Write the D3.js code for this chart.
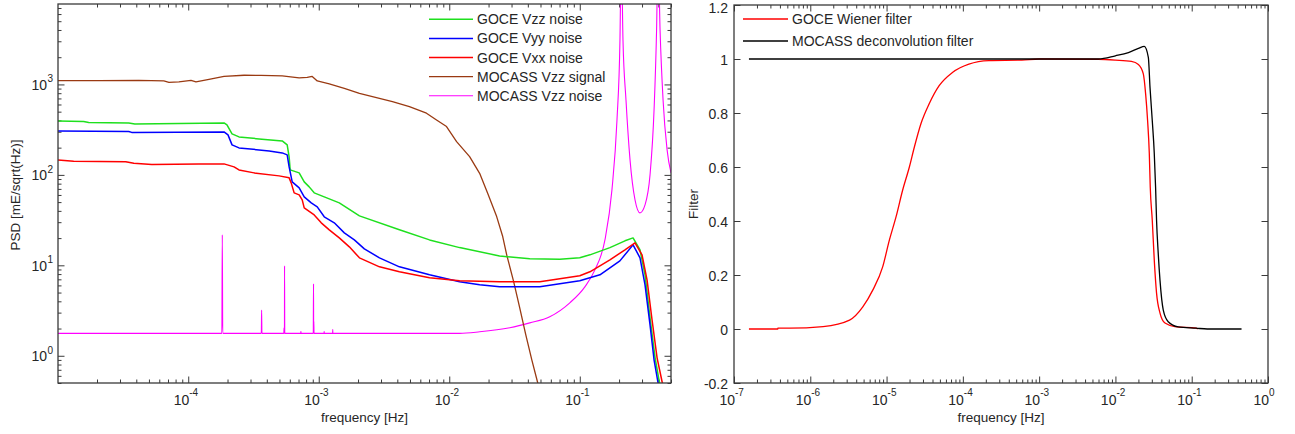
<!DOCTYPE html>
<html>
<head>
<meta charset="utf-8">
<script src="https://cdn.jsdelivr.net/npm/d3@7"></script>
<style>
  body { margin: 0; background: #fff; }
  svg text { font-family: Arial, "Liberation Sans", Helvetica, sans-serif; fill: #262626; }
</style>
</head>
<body>
<svg id="fig" width="1295" height="434"></svg>
<script>
// ---------- PSD panel data: [frequency (Hz), PSD (mE/sqrt(Hz))] ----------
const goceVzz = [
  [1.005e-5, 395], [1.58e-5, 390], [1.727e-5, 380], [3.5e-5, 375.5], [3.9e-5, 366],
  [1.88e-4, 375.5], [1.98e-4, 356.8], [2.166e-4, 283.8], [2.45e-4, 263], [3.49e-4, 250],
  [5.25e-4, 237.5], [5.73e-4, 214.5], [5.93e-4, 158], [6.04e-4, 113.5], [7.08e-4, 105.2],
  [7.74e-4, 83.7], [8.45e-4, 73.7], [9.23e-4, 63.3], [1.102e-3, 57.1], [1.437e-3, 49],
  [2.05e-3, 35.2], [4.15e-3, 24.7], [7.06e-3, 19.1], [1.2e-2, 15.7], [2.43e-2, 12.7],
  [4.14e-2, 11.8], [7.03e-2, 11.65], [0.1, 12.1], [0.1196, 13.06], [0.1702, 15.7],
  [0.222, 18.66], [0.256, 20.1], [0.2894, 14.8], [0.3162, 7.85], [0.3454, 2.63],
  [0.3776, 0.95], [0.405, 0.536], [0.428, 0.375]
];
const goceVyy = [
  [1.005e-5, 306.3], [3.5e-5, 302.4], [3.69e-5, 294.8], [1.88e-4, 298.6], [2.017e-4, 276.7],
  [2.166e-4, 214.5], [2.45e-4, 198.7], [4.17e-4, 184.1], [5.25e-4, 175], [5.73e-4, 166.3],
  [5.93e-4, 122.6], [6.26e-4, 83.7], [7.08e-4, 71.8], [7.74e-4, 57.1], [8.76e-4, 49],
  [9.74e-4, 44.3], [1.102e-3, 34.4], [1.315e-3, 29.5], [1.57e-3, 22.86], [1.874e-3, 19.13],
  [2.236e-3, 15.2], [2.92e-3, 12.1], [4.15e-3, 9.62], [7.06e-3, 7.85], [1.2e-2, 6.57],
  [1.709e-2, 6.09], [2.43e-2, 5.78], [4.94e-2, 5.78], [0.1, 6.74], [0.1427, 7.85],
  [0.203, 11.2], [0.256, 16.84], [0.2894, 12.1], [0.3162, 6.09], [0.3454, 2.2],
  [0.3708, 0.903], [0.398, 0.503], [0.4123, 0.375]
];
const goceVxx = [
  [1.005e-5, 146.5], [1.325e-5, 141.1], [3.32e-5, 139.3], [3.83e-5, 134.1], [5.26e-5, 130.6],
  [1.208e-4, 132.3], [1.88e-4, 132.3], [2.244e-4, 122.6], [2.45e-4, 113.5], [3.196e-4, 105.2],
  [4.97e-4, 97.5], [5.93e-4, 92.7], [6.15e-4, 81.6], [6.48e-4, 63.2], [7.08e-4, 60.1],
  [7.47e-4, 52.9], [7.74e-4, 43.2], [9.23e-4, 36.1], [1.045e-3, 29.5], [1.204e-3, 24.7],
  [1.437e-3, 20.1], [1.715e-3, 16.02], [2.05e-3, 12.1], [2.92e-3, 9.62], [4.15e-3, 8.48],
  [7.06e-3, 7.28], [1.2e-2, 6.74], [2.43e-2, 6.57], [4.94e-2, 6.57], [0.1, 7.66],
  [0.1196, 8.48], [0.1702, 11.5], [0.222, 14.83], [0.265, 17.73], [0.2999, 13.06],
  [0.3276, 6.92], [0.3578, 2.5], [0.3911, 0.95], [0.428, 0.51], [0.461, 0.375]
];
const mocassSignal = [
  [1.005e-5, 1102], [2.06e-5, 1102], [4.18e-5, 1107], [6.5e-5, 1093], [7.11e-5, 1052],
  [8.48e-5, 1066], [1.05e-4, 1107], [1.146e-4, 1066], [1.442e-4, 1136], [1.88e-4, 1226],
  [2.68e-4, 1264], [3.62e-4, 1257], [5.25e-4, 1242], [7.08e-4, 1180], [8.16e-4, 1195],
  [8.91e-4, 1226], [9.74e-4, 1093], [1.204e-3, 1013], [1.57e-3, 903], [2.05e-3, 795],
  [3.67e-3, 646], [4.95e-3, 569], [6.69e-3, 481], [7.99e-3, 405], [9.53e-3, 342],
  [1.138e-2, 233], [1.432e-2, 159], [1.709e-2, 104], [1.969e-2, 62.8], [2.308e-2, 34.6],
  [2.568e-2, 20.8], [2.755e-2, 13.06], [3.118e-2, 6.57], [3.467e-2, 3.39], [3.855e-2, 1.71],
  [4.29e-2, 0.903], [4.76e-2, 0.503], [5.3e-2, 0.26]
];
const mocassNoise = [
  [1.005e-5, 1.77], [1.81e-4, 1.77], [1.824e-4, 21.7], [1.838e-4, 1.77], [3.63e-4, 1.77],
  [3.65e-4, 3.2], [3.67e-4, 1.77], [5.40e-4, 1.77], [5.42e-4, 2.04], [5.44e-4, 1.77],
  [5.46e-4, 1.77], [5.47e-4, 9.9], [5.49e-4, 1.77], [7.28e-4, 1.77], [7.3e-4, 1.85],
  [7.32e-4, 1.77], [9.08e-4, 1.77], [9.12e-4, 6.25], [9.14e-4, 1.77], [9.17e-4, 2.4],
  [9.2e-4, 1.77], [1.098e-3, 1.77], [1.1e-3, 1.85], [1.102e-3, 1.77], [1.278e-3, 1.77],
  [1.28e-3, 1.95], [1.282e-3, 1.77], [1.2e-2, 1.77], [1.709e-2, 1.84], [2.905e-2, 2.04],
  [4.14e-2, 2.31], [5.89e-2, 2.70], [8.39e-2, 3.85], [0.1094, 5.78], [0.1306, 8.9],
  [0.1559, 19.1], [0.1764, 68.3], [0.1928, 405], [0.2032, 3102], [0.208, 30000],
  [0.2143, 3102], [0.226, 674], [0.2427, 146.5], [0.265, 52.9], [0.2894, 38],
  [0.3162, 46.6], [0.3454, 100], [0.3708, 523], [0.3877, 4000], [0.398, 30000],
  [0.4123, 4000], [0.4347, 674], [0.4667, 189], [0.5, 105]
];
const psdLabels = ["GOCE Vzz noise", "GOCE Vyy noise", "GOCE Vxx noise", "MOCASS Vzz signal", "MOCASS Vzz noise"];
const psdColors = ["#1ee01e", "#0000ff", "#ff0000", "#9a3a12", "#ff00ff"];

// ---------- filter panel data: [frequency (Hz), gain] ----------
const goceWiener = [
  [1.57e-7, 0], [3.75e-7, 0], [3.76e-7, 0.003], [5.38e-7, 0.003], [1.47e-6, 0.009],
  [3.27e-6, 0.033], [4.88e-6, 0.082], [6.59e-6, 0.144], [8.89e-6, 0.23], [1.09e-5, 0.33],
  [1.33e-5, 0.415], [1.62e-5, 0.513], [1.99e-5, 0.6], [2.31e-5, 0.673], [2.82e-5, 0.76],
  [3.62e-5, 0.834], [4.89e-5, 0.901], [7.3e-5, 0.95], [1.2e-4, 0.981], [2.2e-4, 0.994],
  [5.93e-4, 0.996], [1e-3, 1.0], [6e-3, 0.999], [1e-2, 0.996], [1.62e-2, 0.991],
  [2e-2, 0.98], [2.32e-2, 0.945], [2.49e-2, 0.87], [2.64e-2, 0.772], [2.78e-2, 0.65],
  [2.86e-2, 0.526], [3.04e-2, 0.403], [3.23e-2, 0.255], [3.46e-2, 0.133], [3.84e-2, 0.059],
  [4.46e-2, 0.022], [6.01e-2, 0.009], [0.114, 0.003], [0.12, 0]
];
const mocassDeconv = [
  [1.57e-7, 1], [6e-3, 1], [1e-2, 1.012], [1.48e-2, 1.024], [2e-2, 1.039],
  [2.39e-2, 1.047], [2.7e-2, 1.006], [2.84e-2, 0.895], [3.04e-2, 0.772], [3.23e-2, 0.65],
  [3.36e-2, 0.526], [3.46e-2, 0.403], [3.64e-2, 0.28], [3.84e-2, 0.18], [4.24e-2, 0.07],
  [4.92e-2, 0.027], [6.64e-2, 0.008], [0.114, 0.003], [0.16, 0], [0.45, 0]
];
const filterLabels = ["GOCE Wiener filter", "MOCASS deconvolution filter"];
const filterColors = ["#ff0000", "#000000"];
const filterTicks = [-0.2, 0, 0.2, 0.4, 0.6, 0.8, 1, 1.2];

// ---------- scales ----------
const fL = d3.scaleLog().domain([1.005e-5, 0.5]).range([58, 671]);
const pL = d3.scaleLog().domain([0.5, 7750]).range([383, 4]);
const fR = d3.scaleLog().domain([1e-7, 1]).range([734, 1268]);
const gR = d3.scaleLinear().domain([-0.2, 1.2]).range([383, 5]);

const svg = d3.select("#fig");
const axisColor = "#3a3a3a";
const isDecade = v => Math.abs(Math.log10(v) - Math.round(Math.log10(v))) < 1e-9;

// inward tick marks on all four sides of a boxed axes
function ticks(g, x, y, xVals, yVals, len) {
  const [x0, x1] = x.range(), [y0, y1] = y.range();
  const put = (gen, scale, vals, tr) => g.append("g").attr("transform", tr)
    .call(gen(scale).tickValues(vals).tickSize(-len).tickFormat(""))
    .call(s => s.select(".domain").remove())
    .selectAll("line").attr("stroke", axisColor).attr("stroke-width", 1);
  put(d3.axisBottom, x, xVals, `translate(0,${y0})`);
  put(d3.axisTop, x, xVals, `translate(0,${y1})`);
  put(d3.axisLeft, y, yVals, `translate(${x0},0)`);
  put(d3.axisRight, y, yVals, `translate(${x1},0)`);
}

function box(g, x, y) {
  const [x0, x1] = x.range(), [y0, y1] = y.range();
  g.append("rect").attr("x", x0).attr("y", y1).attr("width", x1 - x0).attr("height", y0 - y1)
    .attr("fill", "none").attr("stroke", axisColor).attr("stroke-width", 1.3);
}

function clip(id, x, y) {
  const [x0, x1] = x.range(), [y0, y1] = y.range();
  svg.append("clipPath").attr("id", id).append("rect")
    .attr("x", x0).attr("y", y1).attr("width", x1 - x0).attr("height", y0 - y1);
}

// "10" with a raised exponent
function powerLabel(g, px, py, exp, mode) {
  if (mode === "x") {
    g.append("text").attr("x", px + 1).attr("y", py).attr("text-anchor", "end")
      .style("font-size", "14px").text("10");
    g.append("text").attr("x", px + 1).attr("y", py - 9).attr("text-anchor", "start")
      .style("font-size", "10px").text(exp);
  } else {
    g.append("text").attr("x", px).attr("y", py + 5.5).attr("text-anchor", "end")
      .style("font-size", "14px").text("10");
    g.append("text").attr("x", px + 0.5).attr("y", py - 2).attr("text-anchor", "start")
      .style("font-size", "10px").text(exp);
  }
}

// ================= PSD panel =================
{
  const g = svg.append("g");
  clip("clipL", fL, pL);
  const xt = fL.ticks(), yt = pL.ticks();
  ticks(g, fL, pL, xt.filter(d => !isDecade(d)), yt.filter(d => !isDecade(d)), 3.5);
  ticks(g, fL, pL, xt.filter(isDecade), yt.filter(isDecade), 6.5);

  const line = d3.line().x(d => fL(d[0])).y(d => pL(Math.max(d[1], 1e-3)));
  const smooth = d3.line().curve(d3.curveMonotoneX).x(d => fL(d[0])).y(d => pL(Math.max(d[1], 1e-3)));
  const plot = g.append("g").attr("clip-path", "url(#clipL)");
  const series = [goceVzz, goceVyy, goceVxx, mocassSignal, mocassNoise];
  const widths = [1.5, 1.5, 1.5, 1.3, 1.1];
  // magenta and brown underneath, GOCE curves on top
  [4, 3, 0, 1, 2].forEach(i => {
    plot.append("path").datum(series[i]).attr("d", i === 4 ? smooth : line)
      .attr("fill", "none").attr("stroke", psdColors[i]).attr("stroke-width", widths[i])
      .attr("stroke-linejoin", "round");
  });
  box(g, fL, pL);

  xt.filter(isDecade).forEach(d => powerLabel(g, fL(d), 405, String(Math.round(Math.log10(d))), "x"));
  yt.filter(isDecade).forEach(d => powerLabel(g, 47, pL(d), String(Math.round(Math.log10(d))), "y"));

  g.append("text").attr("x", 364.5).attr("y", 422).attr("text-anchor", "middle")
    .style("font-size", "13.5px").text("frequency [Hz]");
  g.append("text").attr("transform", "translate(20,195) rotate(-90)").attr("text-anchor", "middle")
    .style("font-size", "13.5px").text("PSD [mE/sqrt(Hz)]");

  const lg = g.append("g");
  psdLabels.forEach((lab, i) => {
    const yy = 19.3 + i * 19.1;
    lg.append("line").attr("x1", 429).attr("x2", 473).attr("y1", yy).attr("y2", yy)
      .attr("stroke", psdColors[i]).attr("stroke-width", widths[i]);
    lg.append("text").attr("x", 477).attr("y", yy + 5).style("font-size", "14px").text(lab);
  });
}

// ================= filter panel =================
{
  const g = svg.append("g");
  clip("clipR", fR, gR);
  const xt = fR.ticks();
  ticks(g, fR, gR, xt.filter(d => !isDecade(d)), [], 3.5);
  ticks(g, fR, gR, xt.filter(isDecade), filterTicks, 6.5);

  const line = d3.line().curve(d3.curveMonotoneX).x(d => fR(d[0])).y(d => gR(d[1]));
  const plot = g.append("g").attr("clip-path", "url(#clipR)");
  [goceWiener, mocassDeconv].forEach((s, i) => {
    plot.append("path").datum(s).attr("d", line)
      .attr("fill", "none").attr("stroke", filterColors[i]).attr("stroke-width", 1.3)
      .attr("stroke-linejoin", "round");
  });
  box(g, fR, gR);

  xt.filter(isDecade).forEach(d => powerLabel(g, fR(d), 405, String(Math.round(Math.log10(d))), "x"));
  filterTicks.forEach(v => {
    // keep the topmost label fully inside the page
    g.append("text").attr("x", 728).attr("y", Math.max(gR(v) + 6, 13)).attr("text-anchor", "end")
      .style("font-size", "14px").text(d3.format("~g")(v).replace("−", "-"));
  });

  g.append("text").attr("x", 1001).attr("y", 422).attr("text-anchor", "middle")
    .style("font-size", "13.5px").text("frequency [Hz]");
  g.append("text").attr("transform", "translate(698,204) rotate(-90)").attr("text-anchor", "middle")
    .style("font-size", "13.5px").text("Filter");

  filterLabels.forEach((lab, i) => {
    const yy = 19 + i * 22;
    g.append("line").attr("x1", 743).attr("x2", 788).attr("y1", yy).attr("y2", yy)
      .attr("stroke", filterColors[i]).attr("stroke-width", 1.3);
    g.append("text").attr("x", 792).attr("y", yy + 5).style("font-size", "14px").text(lab);
  });
}
</script>
</body>
</html>
